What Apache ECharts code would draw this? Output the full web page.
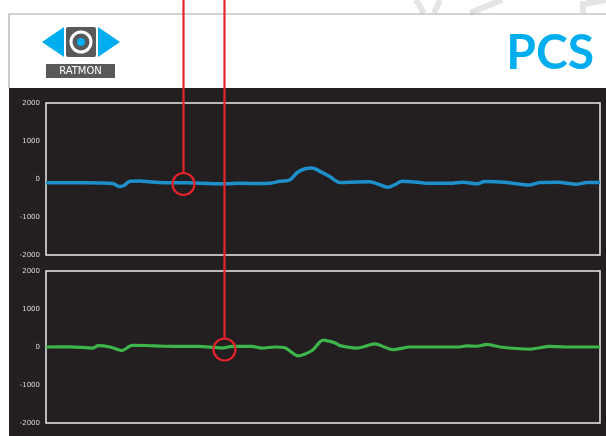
<!DOCTYPE html>
<html>
<head>
<meta charset="utf-8">
<script src="https://cdn.jsdelivr.net/npm/echarts@6/dist/echarts.min.js"></script>
<style>
  html, body { margin: 0; padding: 0; background: #fff; }
  #chart { width: 606px; height: 436px; }
</style>
</head>
<body>
<div id="chart"></div>
<script>
// sample positions and readings for the two sensor traces
const blueX = [0, 24, 54, 64, 68, 73, 78, 84, 94, 104, 124, 139, 154, 179, 194, 214, 224, 234, 244, 251,
  259, 266, 274, 284, 294, 311, 324, 334, 342, 349, 356, 369, 381, 404, 417, 431, 439, 461, 484, 494,
  511, 531, 541, 554];
const blueY = [-100, -100, -105, -110, -130, -200, -170, -60, -55, -75, -100, -100, -110, -125, -115, -120, -110, -60, -20, 165,
  270, 290, 200, 60, -93, -80, -75, -150, -216, -150, -56, -80, -110, -110, -83, -128, -67, -95, -155, -93,
  -83, -136, -95, -95];
const greenX = [0, 24, 47, 52, 64, 76, 86, 101, 119, 134, 152, 176, 186, 206, 216, 229, 239, 252, 266, 277,
  289, 294, 311, 329, 347, 364, 387, 411, 421, 431, 441, 454, 484, 504, 521, 554];
const greenY = [0, 5, -27, 35, 0, -92, 43, 40, 20, 16, 16, -27, 16, 16, -27, 0, -20, -236, -92, 179,
  109, 35, -27, 81, -73, 0, 0, 0, 27, 20, 71, 0, -54, 16, 0, 0];
const yTicks = [-2000, -1000, 0, 1000, 2000];

const pair = (xs, ys) => xs.map((x, i) => [x, ys[i]]);

const chart = echarts.init(document.getElementById("chart"));

const yAxisBase = (gridIndex) => ({
  type: "value",
  gridIndex: gridIndex,
  min: yTicks[0],
  max: yTicks[yTicks.length - 1],
  interval: 1000,
  axisLine: { show: false },
  axisTick: { show: false },
  splitLine: { show: false },
  axisLabel: {
    color: "#dadada",
    fontSize: 7,
    fontFamily: "DejaVu Sans",
    margin: 6,
    formatter: (v) => String(v),
  },
});

const xAxisBase = (gridIndex) => ({
  type: "value",
  gridIndex: gridIndex,
  min: 0,
  max: 554,
  show: false,
});

const gridBase = {
  left: 46,
  width: 554,
  height: 152,
  show: true,
  borderColor: "#ececec",
  borderWidth: 1.5,
  backgroundColor: "transparent",
};

const red = "#e6232b";

const option = {
  backgroundColor: "#ffffff",
  animation: false,
  grid: [
    Object.assign({ top: 103 }, gridBase),
    Object.assign({ top: 271 }, gridBase),
  ],
  xAxis: [xAxisBase(0), xAxisBase(1)],
  yAxis: [yAxisBase(0), yAxisBase(1)],
  series: [
    {
      type: "line",
      xAxisIndex: 0,
      yAxisIndex: 0,
      data: pair(blueX, blueY),
      smooth: 0.35,
      symbol: "none",
      lineStyle: { color: "#1d8fca", width: 3.5 },
    },
    {
      type: "line",
      xAxisIndex: 1,
      yAxisIndex: 1,
      data: pair(greenX, greenY),
      smooth: 0.25,
      symbol: "none",
      lineStyle: { color: "#3db54a", width: 3.2 },
    },
  ],
  graphic: [
    // dark panel
    { type: "rect", z: -100, shape: { x: 9, y: 88, width: 597, height: 348 }, style: { fill: "#231f20" } },
    // header frame
    { type: "polyline", z: -90, shape: { points: [[9, 88], [9, 14], [606, 14]] }, style: { stroke: "#a8a8a8", lineWidth: 1.2, fill: null } },
    // faint watermark strokes
    { type: "polyline", z: -95, shape: { points: [[416, 0], [424, 13]] }, style: { stroke: "#e4e4e4", lineWidth: 6, fill: null } },
    { type: "polyline", z: -95, shape: { points: [[440, 0], [434, 13]] }, style: { stroke: "#e4e4e4", lineWidth: 6, fill: null } },
    { type: "polyline", z: -95, shape: { points: [[502, 0], [470, 13]] }, style: { stroke: "#e4e4e4", lineWidth: 6, fill: null } },
    { type: "polyline", z: -95, shape: { points: [[583, 13], [583, 4], [606, 0]] }, style: { stroke: "#e4e4e4", lineWidth: 6, fill: null } },
    // logo
    { type: "polygon", shape: { points: [[64, 27], [64, 57], [42, 42]] }, style: { fill: "#00aeef" } },
    { type: "polygon", shape: { points: [[98, 27], [98, 57], [120, 42]] }, style: { fill: "#00aeef" } },
    { type: "rect", shape: { x: 66, y: 27, width: 30, height: 30, r: 2 }, style: { fill: "#58595b" } },
    { type: "circle", shape: { cx: 81, cy: 42, r: 10 }, style: { fill: null, stroke: "#ffffff", lineWidth: 3 } },
    { type: "circle", shape: { cx: 81, cy: 42, r: 4 }, style: { fill: "#00aeef" } },
    { type: "rect", shape: { x: 46, y: 64, width: 69, height: 14 }, style: { fill: "#58595b" } },
    { type: "text", style: { x: 80.5, y: 71.5, text: "RATMON", fill: "#ffffff", font: "10px 'DejaVu Sans'", align: "center", verticalAlign: "middle" } },
    // title
    { type: "text", style: { x: 594, y: 54, text: "PCS", fill: "#00aeef", font: "bold 48px Lato", align: "right", verticalAlign: "middle" } },
    // red markers
    { type: "line", z: 100, shape: { x1: 183.5, y1: 0, x2: 183.5, y2: 173 }, style: { stroke: red, lineWidth: 2.2 } },
    { type: "circle", z: 100, shape: { cx: 183.5, cy: 184, r: 11 }, style: { fill: null, stroke: red, lineWidth: 2.2 } },
    { type: "line", z: 100, shape: { x1: 224.5, y1: 0, x2: 224.5, y2: 338 }, style: { stroke: red, lineWidth: 2.2 } },
    { type: "circle", z: 100, shape: { cx: 224.5, cy: 349.5, r: 11 }, style: { fill: null, stroke: red, lineWidth: 2.2 } },
  ],
};

chart.setOption(option);
window.addEventListener("resize", () => {
  chart && chart.resize();
});
</script>
</body>
</html>
